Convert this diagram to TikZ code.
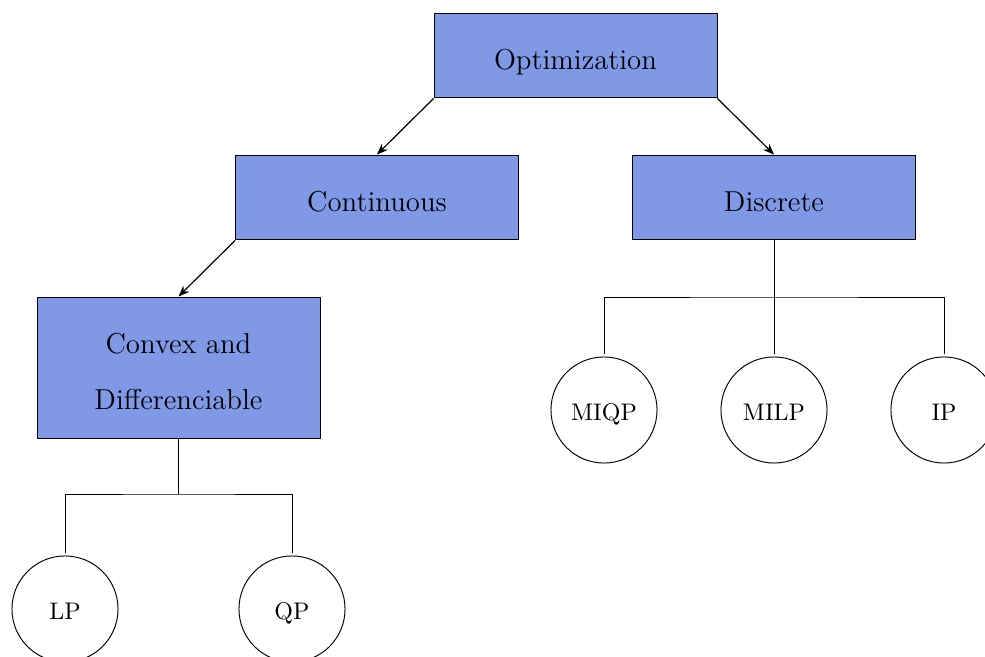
\documentclass[tikz,border=0pt]{standalone}
\usetikzlibrary{arrows.meta}
\definecolor{boxblue}{RGB}{127,153,230}
\begin{document}
\begin{tikzpicture}[x=0.416667pt,y=-0.416667pt,
  catbox/.style={draw=black,fill=boxblue,rectangle,minimum width=117.9pt,minimum height=35.4pt,inner sep=0pt,font=\large,align=center},
  onel/.style={text height=12pt,text depth=0pt},
  leaf/.style={draw=black,circle,minimum size=44.2pt,inner sep=0pt,outer sep=1.3pt,font=\normalsize,text height=8.4pt,text depth=0pt},
  arr/.style={-{Stealth[length=4.6pt,width=3.6pt]},line width=0.5pt},
  tree/.style={thin}]
\clip (0,0) rectangle (985,657);
\node[catbox,onel] (opt) at (575.5,55.5) {Optimization};
\node[catbox,onel] (cont) at (377,197.5) {Continuous};
\node[catbox,onel] (disc) at (774,197.5) {Discrete};
\node[catbox,minimum height=58.75pt] (conv) at (178.5,367.5) {\rule{0pt}{11.7pt}Convex and\\[9.6pt]Differenciable};
\node[leaf] (miqp) at (604,410) {MIQP};
\node[leaf] (milp) at (774,410) {MILP};
\node[leaf] (ip) at (944,410) {IP};
\node[leaf] (lp) at (65,609) {LP};
\node[leaf] (qp) at (292,609) {QP};
\draw[arr] (opt.south west) -- (cont.north);
\draw[arr] (opt.south east) -- (disc.north);
\draw[arr] (cont.south west) -- (conv.north);
\draw[tree] (disc.south) -- (milp.north);
\draw[tree] (miqp.north) |- (774,297) -| (ip.north);
\draw[tree] (conv.south) -- (178.5,494);
\draw[tree] (lp.north) |- (178.5,494) -| (qp.north);
\end{tikzpicture}
\end{document}
